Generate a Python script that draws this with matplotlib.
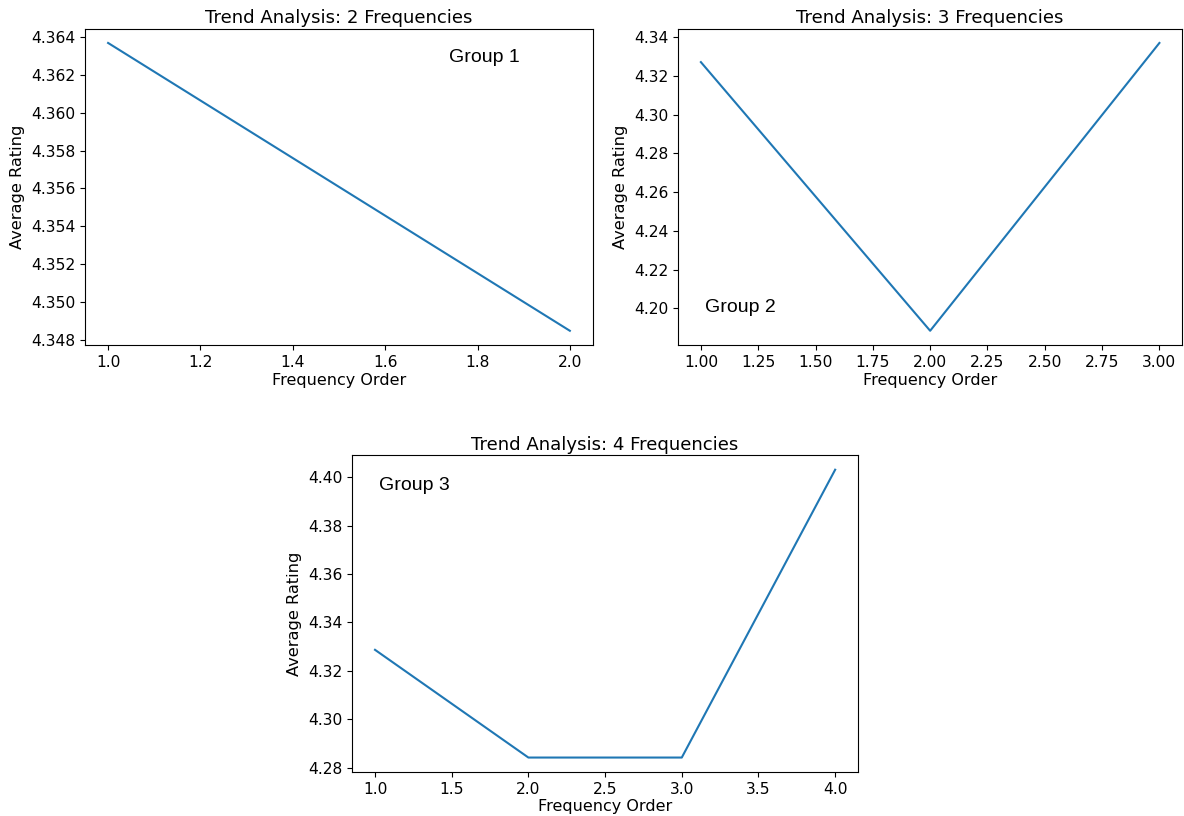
import matplotlib
matplotlib.use("Agg")
from matplotlib import pyplot as plt

# average rating per frequency order
freq_2 = [1, 2]
rating_2 = [4.36368, 4.34849]

freq_3 = [1, 2, 3]
rating_3 = [4.3272, 4.1884, 4.3371]

freq_4 = [1, 2, 3, 4]
rating_4 = [4.3287, 4.28415, 4.28415, 4.40318]

titles = ["Trend Analysis: 2 Frequencies",
          "Trend Analysis: 3 Frequencies",
          "Trend Analysis: 4 Frequencies"]
groups = ["Group 1", "Group 2", "Group 3"]

plt.rcParams['font.size'] = 11

fig = plt.figure(figsize=(11.84, 8.16), dpi=100)
ax1 = fig.add_axes([0.0718, 0.577, 0.429, 0.388])
ax2 = fig.add_axes([0.5726, 0.577, 0.426, 0.388])
ax3 = fig.add_axes([0.2973, 0.054, 0.4275, 0.388])

series = [(ax1, freq_2, rating_2), (ax2, freq_3, rating_3), (ax3, freq_4, rating_4)]
label_pos = [(0.787, 0.91), (0.123, 0.12), (0.123, 0.905)]

for i, (ax, x, y) in enumerate(series):
    ax.plot(x, y)
    ax.set_title(titles[i], fontsize=13.1, pad=4)
    ax.set_xlabel("Frequency Order", fontsize=11.5, labelpad=2)
    ax.set_ylabel("Average Rating", fontsize=11.7, labelpad=4)
    ax.tick_params(labelsize=11.2)
    ax.text(label_pos[i][0], label_pos[i][1], groups[i], transform=ax.transAxes,
            ha='center', va='center', fontsize=14, family='Liberation Sans')

fig.savefig("out.png", dpi=100)
